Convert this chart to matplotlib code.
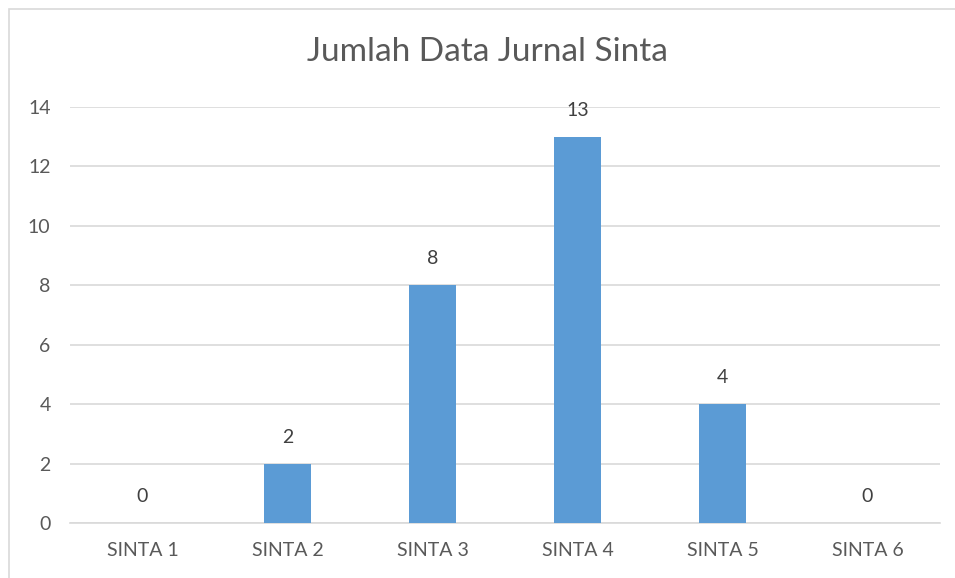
#!/usr/bin/env python3
import matplotlib
matplotlib.use('Agg')
import matplotlib.pyplot as plt
from matplotlib.patches import Rectangle

font = {'family': 'Lato', 'size': 14}
matplotlib.rc('font', **font)

categories = ['SINTA 1', 'SINTA 2', 'SINTA 3', 'SINTA 4', 'SINTA 5', 'SINTA 6']
counts = [0, 2, 8, 13, 4, 0]
y_ticks = [0, 2, 4, 6, 8, 10, 12, 14]

text_color = '#595959'
grid_color = '#d9d9d9'
bar_color = '#5b9bd5'


def main():
    fig = plt.figure(figsize=(9.55, 5.78), dpi=100)
    # chart frame (only left/top visible in the reference)
    fig.patches.append(Rectangle((9 / 955, -0.05), 1.2, 1 - 9 / 578 + 0.05,
                                 transform=fig.transFigure, fill=False,
                                 edgecolor='#d9d9d9', linewidth=1.2))
    ax = fig.add_axes([70 / 955, 55 / 578, 870 / 955, 416 / 578])

    x = list(range(len(categories)))
    ax.bar(x, counts, width=0.32, color=bar_color, zorder=3)
    for xi, v in zip(x, counts):
        ax.annotate(str(v), (xi, v), xytext=(0, 19), textcoords='offset points',
                    ha='center', va='center', color='#404040', fontsize=14)

    ax.set_xlim(-0.5, len(categories) - 0.5)
    ax.set_ylim(0, 14)
    ax.set_yticks(y_ticks)
    ax.set_xticks(x, categories)
    ax.grid(axis='y', color=grid_color, linewidth=1.2, zorder=0)
    for s in ['top', 'right', 'left']:
        ax.spines[s].set_visible(False)
    ax.spines['bottom'].set_color(grid_color)
    ax.spines['bottom'].set_linewidth(1.2)
    ax.tick_params(axis='both', length=0, colors=text_color, labelsize=14)
    ax.tick_params(axis='y', pad=14)
    ax.tick_params(axis='x', pad=14)

    fig.text(487 / 955, 1 - 52 / 578, 'Jumlah Data Jurnal Sinta', ha='center',
             va='center', fontsize=24, color=text_color)

    plt.savefig('out.png', dpi=100)


if __name__ == '__main__':
    main()
